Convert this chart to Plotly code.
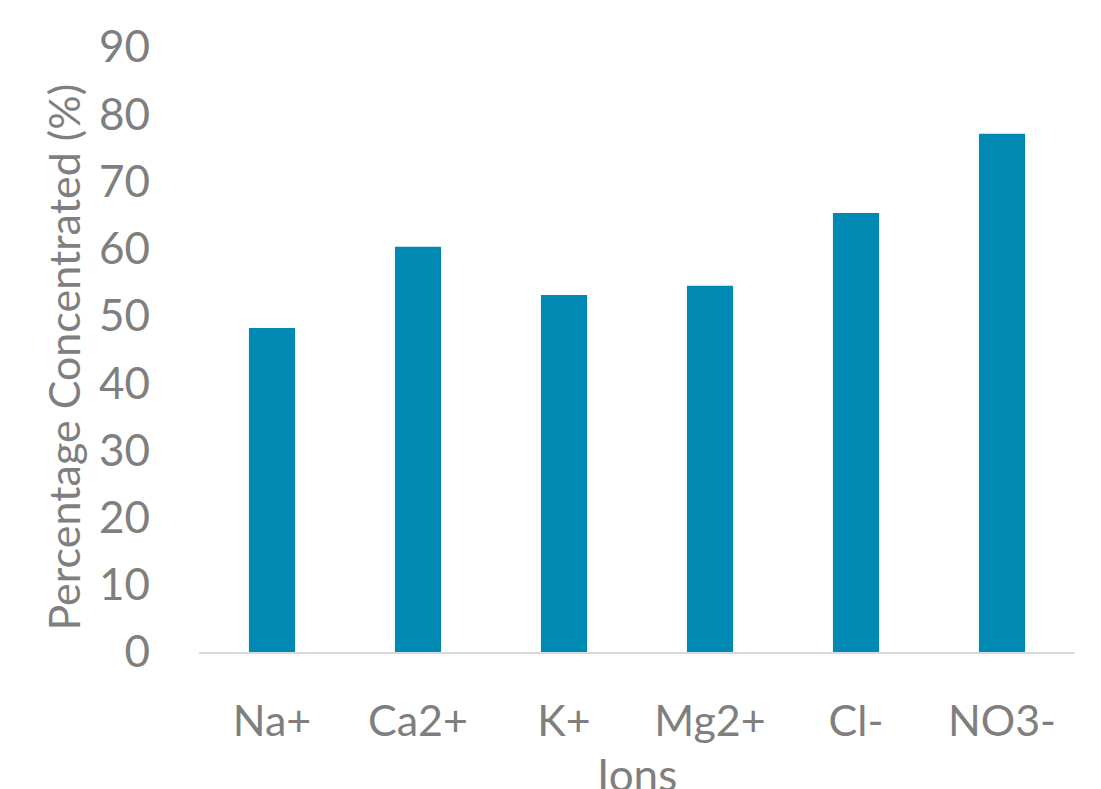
import plotly.graph_objects as go

# Ion concentration data
ions = ["Na+", "Ca2+", "K+", "Mg2+", "Cl-", "NO3-"]
percent_concentrated = [48.2, 60.3, 53.1, 54.5, 65.3, 77.1]
y_ticks = [0, 10, 20, 30, 40, 50, 60, 70, 80, 90]

GRAY = "#7F7F7F"
FONT = "Lato, 'Open Sans', sans-serif"

fig = go.Figure(
    go.Bar(
        x=ions,
        y=percent_concentrated,
        marker=dict(color="#0089B2", line=dict(width=0)),
        width=0.316,
    )
)

fig.update_layout(
    width=1101,
    height=789,
    margin=dict(l=199, r=26, t=47, b=137),
    paper_bgcolor="white",
    plot_bgcolor="white",
    showlegend=False,
    font=dict(family=FONT, color=GRAY),
)

fig.update_xaxes(
    showline=True,
    linecolor="#D9D9D9",
    linewidth=2,
    showgrid=False,
    ticks="",
    tickfont=dict(size=43, color=GRAY, family=FONT),
    ticklabelstandoff=30,
)

fig.update_yaxes(
    range=[0, 90],
    tickvals=y_ticks,
    showgrid=False,
    showline=False,
    zeroline=False,
    ticks="",
    tickfont=dict(size=44, color=GRAY, family=FONT),
    ticklabelstandoff=48,
)

fig.add_annotation(
    text="Percentage Concentrated (%)",
    xref="paper", yref="paper",
    x=-0.155, y=0.487,
    xanchor="center", yanchor="middle",
    textangle=-90,
    showarrow=False,
    font=dict(size=43, color=GRAY, family=FONT),
)

fig.add_annotation(
    text="Ions",
    xref="paper", yref="paper",
    x=0.5, y=-0.155,
    xanchor="center", yanchor="top",
    showarrow=False,
    font=dict(size=44, color=GRAY, family=FONT),
)

fig.write_html("out.html")
